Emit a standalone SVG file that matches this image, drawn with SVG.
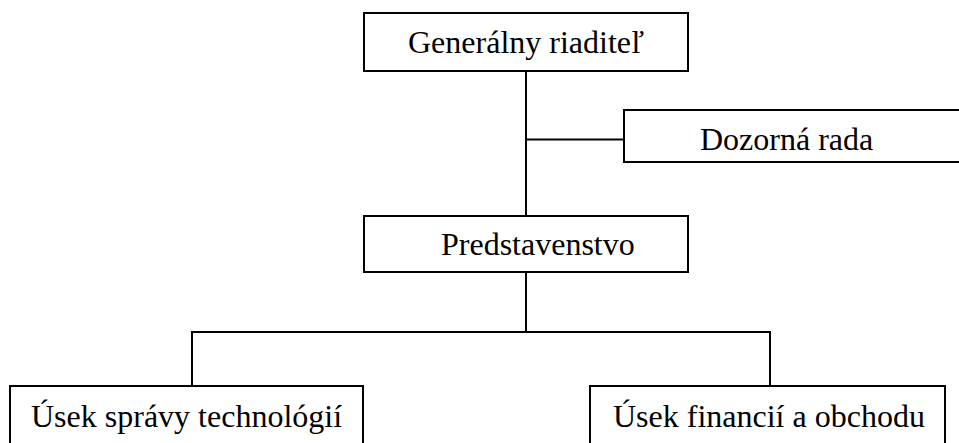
<svg xmlns="http://www.w3.org/2000/svg" width="959" height="443" viewBox="0 0 959 443">
<style>
.box{fill:#fff;stroke:#000;stroke-width:2}
.lbl{font-family:"Liberation Serif","Times New Roman",serif;font-size:32px;fill:#000}
.con{fill:none;stroke:#000;stroke-width:2}
</style>
<rect width="959" height="443" fill="#fff"/>
<g id="connectors">
<line class="con" x1="526" y1="71" x2="526" y2="216"/>
<line class="con" x1="526" y1="139.5" x2="624" y2="139.5"/>
<line class="con" x1="526" y1="272" x2="526" y2="332"/>
<polyline class="con" points="192,386 192,332 770,332 770,386"/>
</g>
<g id="generalny-riaditel">
<rect class="box" x="364" y="13" width="324" height="58"/>
<text class="lbl" x="526" y="53" text-anchor="middle">Generálny riaditeľ</text>
</g>
<g id="dozorna-rada">
<rect class="box" x="624" y="110" width="360" height="52"/>
<text class="lbl" x="700" y="150">Dozorná rada</text>
</g>
<g id="predstavenstvo">
<rect class="box" x="364" y="216" width="324" height="56"/>
<text class="lbl" x="441" y="255">Predstavenstvo</text>
</g>
<g id="usek-spravy-technologii">
<rect class="box" x="10" y="386" width="353" height="80"/>
<text class="lbl" x="31" y="427">Úsek správy technológií</text>
</g>
<g id="usek-financii-a-obchodu">
<rect class="box" x="590" y="386" width="355" height="80"/>
<text class="lbl" x="613" y="427">Úsek financií a obchodu</text>
</g>
</svg>
